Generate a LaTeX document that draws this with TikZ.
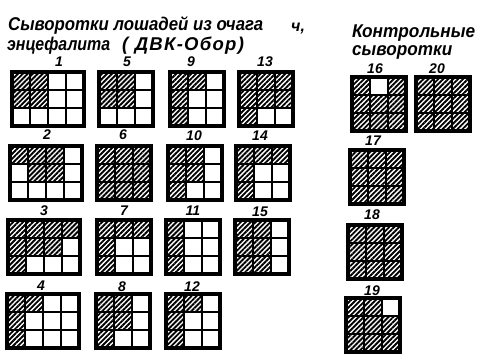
\documentclass[tikz,border=0pt]{standalone}
\usepackage{fontspec}
\usepackage{graphicx}
\setmainfont{Liberation Sans}
\usetikzlibrary{patterns.meta}
\tikzset{
  hatch/.style={pattern={Lines[angle=45,distance=3.5pt,line width=1.9pt]}},
  cellline/.style={line width=2.2pt},
  frame/.style={line width=3.2pt},
  num/.style={font=\fontsize{14}{14}\selectfont\bfseries\itshape, inner sep=0pt},
  ttl/.style={font=\fontsize{18.5}{18.5}\selectfont\bfseries\itshape, inner sep=0pt, anchor=base west},
}
\newcommand\fitw[2]{\resizebox{#1pt}{\height}{#2}}
\newcommand\hgrid[4]{% x, y, cols, hatched cells c/r
  \begin{scope}[shift={(#1,#2)}]
    \foreach \c/\r in {#4} {\fill[hatch] ({(\c-1)*18},{(\r-1)*18}) rectangle ++(18,18);}
    \foreach \c in {1,...,#3} \foreach \r in {1,2,3}
      {\draw[cellline] ({(\c-1)*18},{(\r-1)*18}) rectangle ++(18,18);}
    \draw[frame] (0,0) rectangle ({#3*18},54);
  \end{scope}}
\begin{document}
\begin{tikzpicture}[x=1pt,y=-1pt]
\useasboundingbox (0,0) rectangle (478,354);
% titles
\node[ttl] (t1) at (8,30) {\fitw{255}{Сыворотки лошадей из очага}};
\node[ttl, font=\fontsize{16}{16}\selectfont\bfseries\itshape] (t1b) at (291,31) {ч,};
\node[ttl] (t2a) at (7,50) {\fitw{103}{энцефалита}};
\node[ttl] (t2b) at (122,50) {\addfontfeatures{LetterSpace=7}( ДВК-Обор)};
\node[ttl] (t3) at (352,37) {\fitw{123}{Контрольные}};
\node[ttl] (t4) at (352,55) {\fitw{100}{сыворотки}};
% labels
\node[num] (n1) at (59,62) {1};
\node[num] (n5) at (127,62) {5};
\node[num] (n9) at (191,62) {9};
\node[num] (n13) at (265,62) {13};
\node[num] (n2) at (47,135) {2};
\node[num] (n6) at (123,135) {6};
\node[num] (n10) at (194,136) {10};
\node[num] (n14) at (260,136) {14};
\node[num] (n3) at (44,211) {3};
\node[num] (n7) at (124,211) {7};
\node[num] (n11) at (193,211) {11};
\node[num] (n15) at (260,212) {15};
\node[num] (n4) at (41,286) {4};
\node[num] (n8) at (122,287) {8};
\node[num] (n12) at (192,287) {12};
\node[num] (n16) at (375,69) {16};
\node[num] (n20) at (437,69) {20};
\node[num] (n17) at (373,141) {17};
\node[num] (n18) at (372,215) {18};
\node[num] (n19) at (372,291) {19};
% grids
\hgrid{12}{72}{4}{1/1,2/1,1/2,2/2}
\hgrid{99}{72}{3}{1/1,2/1,1/2,2/2}
\hgrid{170}{72}{3}{1/1,2/1,1/2,1/3}
\hgrid{239}{72}{3}{1/1,2/1,3/1,1/2,2/2,3/2,1/3}
\hgrid{10}{146}{4}{1/1,2/1,3/1,2/2,3/2}
\hgrid{97}{146}{3}{1/1,2/1,3/1,1/2,2/2,3/2,1/3,2/3,3/3}
\hgrid{168}{146}{3}{1/1,2/1,1/2,2/2,1/3}
\hgrid{236}{146}{3}{1/1,2/1,3/1,1/2,1/3}
\hgrid{8}{220}{4}{1/1,2/1,3/1,4/1,1/2,2/2,3/2,1/3}
\hgrid{97}{220}{3}{1/1,2/1,3/1,1/2,1/3}
\hgrid{166}{220}{3}{1/1,1/2,1/3}
\hgrid{235}{220}{3}{1/1,2/1,1/2,2/2,1/3,2/3}
\hgrid{7}{294}{4}{1/1,2/1,1/2,1/3}
\hgrid{96}{294}{3}{1/1,2/1,1/2,2/2,1/3}
\hgrid{166}{294}{3}{1/1,2/1,1/2,1/3}
\hgrid{352}{77}{3}{1/1,3/1,1/2,2/2,3/2,1/3,2/3,3/3}
\hgrid{416}{77}{3}{1/1,2/1,3/1,1/2,2/2,3/2,1/3,2/3,3/3}
\hgrid{350}{150}{3}{1/1,2/1,3/1,1/2,2/2,3/2,1/3,2/3,3/3}
\hgrid{348}{225}{3}{1/1,2/1,3/1,1/2,2/2,3/2,1/3,2/3,3/3}
\hgrid{346}{298}{3}{1/1,2/1,1/2,2/2,3/2,1/3,2/3,3/3}
\end{tikzpicture}
\end{document}
